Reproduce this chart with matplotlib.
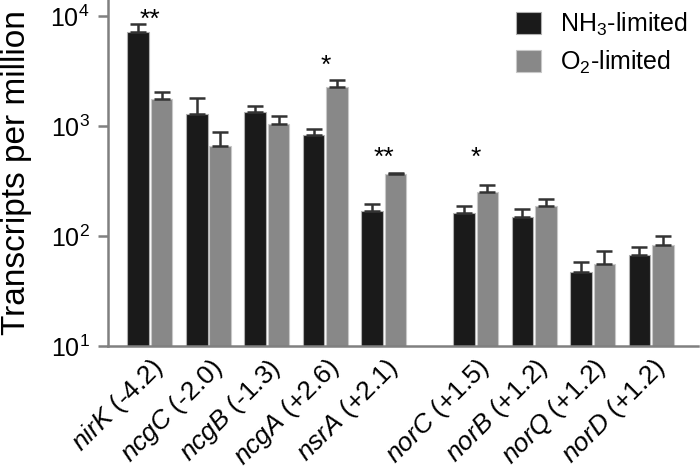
import numpy as np
import matplotlib.pyplot as plt

plt.rcParams['font.family'] = ['Liberation Sans', 'DejaVu Sans']
plt.rcParams['mathtext.fontset'] = 'custom'
plt.rcParams['mathtext.rm'] = 'Liberation Sans'
plt.rcParams['mathtext.it'] = 'Liberation Sans:italic'

### data
genes   = ['nirK', 'ncgC', 'ncgB', 'ncgA', 'nsrA', 'norC', 'norB', 'norQ', 'norD']
changes = ['-4.2', '-2.0', '-1.3', '+2.6', '+2.1', '+1.5', '+1.2', '+1.2', '+1.2']
nh3     = [7100, 1290, 1340, 835, 170, 163, 150, 47.5, 67]
nh3_err = [1300, 520, 180, 112, 25, 24, 27, 10, 12]
o2      = [1760, 660, 1045, 2250, 364, 251, 189, 56, 82]
o2_err  = [290, 230, 190, 370, 12, 38, 26, 17.5, 17]
stars   = ['**', '', '', '*', '**', '*', '', '', '']
star_y  = [7940, 0, 0, 3050, 442, 442, 0, 0, 0]

### layout: gap between the two gene clusters
x = np.arange(len(genes), dtype=float)
x[5:] += 0.57
w = 0.37

fig = plt.figure(figsize=(7, 4.74), dpi=100)
ax = fig.add_axes([0.154, 0.27, 0.843, 0.73])

ekw = dict(ecolor='#333333', elinewidth=1.8, capsize=6, capthick=1.8)
ax.bar(x - w/2 - 0.015, nh3, w, color='#1a1a1a', edgecolor='#b0b0b0', lw=0.8,
       yerr=[np.zeros(len(nh3)), nh3_err], error_kw=ekw, label='NH$_3$-limited', zorder=2)
ax.bar(x + w/2 + 0.015, o2, w, color='#888888', edgecolor='#c8c8c8', lw=0.8,
       yerr=[np.zeros(len(o2)), o2_err], error_kw=ekw, label='O$_2$-limited', zorder=2)

for xi, s, sy in zip(x, stars, star_y):
    if s:
        ax.text(xi, sy, s, ha='center', va='baseline', fontsize=19, clip_on=False)

ax.set_yscale('log')
ax.set_ylim(10, 13970)
ax.set_xlim(-0.72, 9.37)
ax.set_yticks([10, 100, 1000, 10000])
ax.set_yticklabels(['10$^1$', '10$^2$', '10$^3$', '10$^4$'])
ax.minorticks_off()
ax.tick_params(axis='y', labelsize=18, length=7, width=1.8, color='#808080', pad=6)
ax.set_xticks(x)
ax.set_xticklabels([r'$\mathit{%s}$ (%s)' % (g, c) for g, c in zip(genes, changes)],
                   rotation=45, ha='right', rotation_mode='anchor', fontsize=19)
ax.tick_params(axis='x', length=0, pad=6)
ax.set_ylabel('Transcripts per million', fontsize=24, labelpad=13)

for side in ['top', 'right']:
    ax.spines[side].set_visible(False)
for side in ['left', 'bottom']:
    ax.spines[side].set_color('#808080')
    ax.spines[side].set_linewidth(1.8)

ax.legend(loc='upper right', bbox_to_anchor=(1.02, 1.035), frameon=False, fontsize=18,
          handlelength=1.0, handleheight=1.0, handletextpad=0.75, labelspacing=0.45)

fig.savefig('out.png', dpi=100)
